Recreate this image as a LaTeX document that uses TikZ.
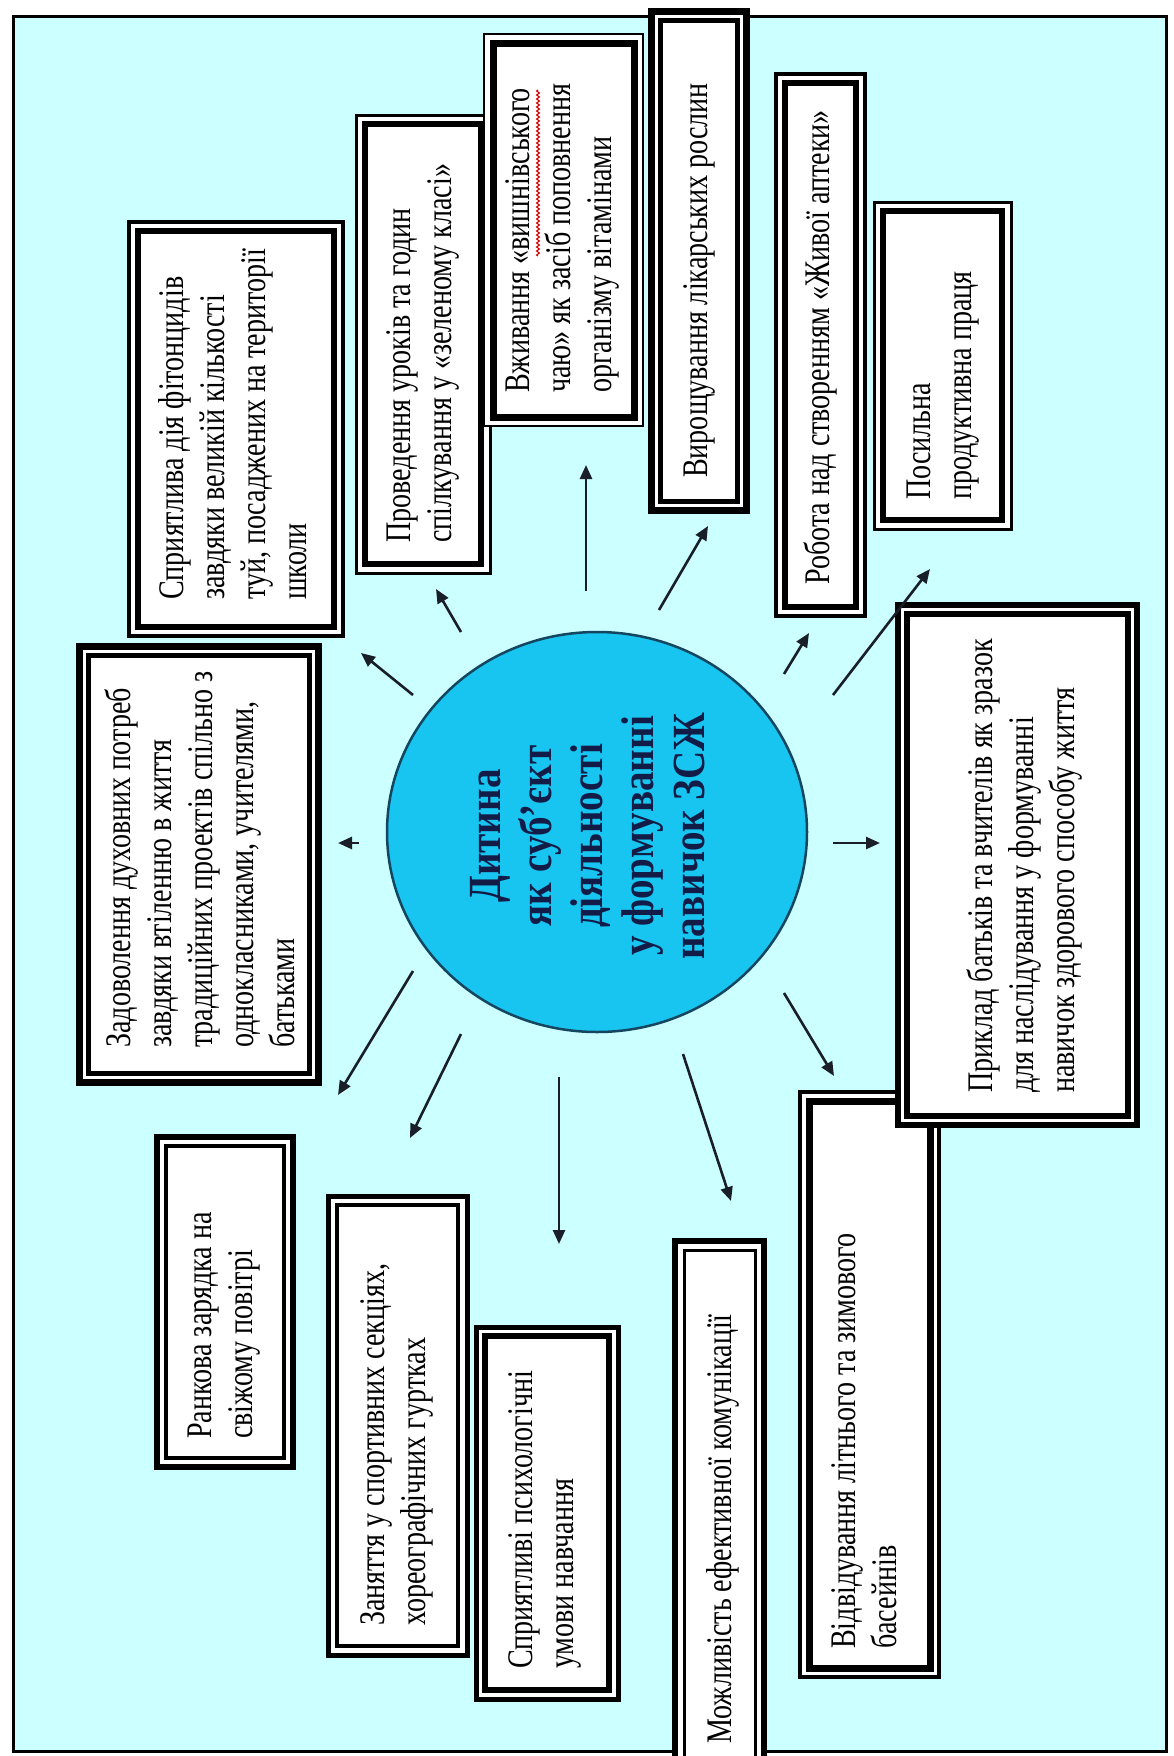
\documentclass[tikz,border=0pt]{standalone}
\usepackage{fontspec}
\setmainfont{Liberation Serif}
\newfontfamily\boxfont[FakeStretch=0.78]{Liberation Serif}
\newfontfamily\centerfont[FakeStretch=0.85]{Liberation Serif}
\usetikzlibrary{arrows.meta,shapes.geometric,decorations.pathmorphing}
\definecolor{bgcyan}{RGB}{204,255,255}
\definecolor{circfill}{RGB}{24,196,240}
\definecolor{circline}{RGB}{20,70,95}
\definecolor{navy}{RGB}{18,28,70}
\definecolor{arrowc}{RGB}{25,30,40}
\tikzset{
  frame/.style={draw=black, line width=3pt, fill=bgcyan},
  obox/.style={draw=black, fill=white, inner sep=0pt, outer sep=0pt},
  ibox/.style={draw=black, inner sep=0pt, outer sep=0pt},
  btext/.style={rotate=90, anchor=west, inner sep=0pt, align=left,
    font=\boxfont\fontsize{36}{41}\selectfont, text=black},
  ctext/.style={rotate=90, inner sep=0pt, align=center,
    font=\centerfont\bfseries\fontsize{46}{51}\selectfont, text=navy},
  arr/.style={draw=arrowc, line width=2.6pt, -{Triangle[length=14pt,width=12pt]}},
  spell/.style={draw=red!80!black, line width=1.1pt, decorate,
    decoration={zigzag, amplitude=1.4pt, segment length=4pt}}
}
% name, x1, y1, x2, y2, outer lw, inner lw
\newcommand\dbox[7]{%
  \pgfmathsetmacro\bw{#4-#2}%
  \pgfmathsetmacro\bh{#5-#3}%
  \pgfmathsetmacro\biw{#4-#2-18}%
  \pgfmathsetmacro\bih{#5-#3-18}%
  \pgfmathsetmacro\bcx{(#2+#4)/2}%
  \pgfmathsetmacro\bcy{(#3+#5)/2}%
  \node[obox, line width=#6pt, minimum width=\bw pt, minimum height=\bh pt] (#1) at (\bcx,\bcy) {};
  \node[ibox, line width=#7pt, minimum width=\biw pt, minimum height=\bih pt] (#1in) at (#1.center) {};
}
\begin{document}
\begin{tikzpicture}[x=1pt,y=-1pt]
\useasboundingbox (0,0) rectangle (1173,1756);
\fill[white] (0,0) rectangle (1173,1756);
\draw[frame] (13,16) rectangle (1166,1751);

% boxes
\dbox{bA}{129}{222}{343}{636}{4}{5.5}
\dbox{bB}{356}{115}{490}{573}{3}{6}
\dbox{bC}{484}{34}{643}{426}{2.5}{7}
\dbox{bD}{651}{11}{746}{510}{7}{5}
\dbox{bE}{776}{74}{865}{616}{4}{6}
\dbox{bF}{874}{202}{1011}{529}{3}{6}
\dbox{bH}{800}{1092}{939}{1677}{4}{7}
\dbox{bG}{898}{605}{1137}{1125}{6}{6}
\dbox{bI}{675}{1241}{764}{1766}{6}{3}
\dbox{bJ}{476}{1327}{618}{1699}{5}{6}
\dbox{bK}{328}{1196}{467}{1655}{5}{4}
\dbox{bL}{157}{1137}{293}{1467}{6}{4}
\dbox{bM}{79}{646}{318}{1082}{7}{5}

% texts
\node[btext] (tA) at (233,600) {Сприятлива дія фітонцидів\\завдяки великій кількості\\туй, посаджених на території\\школи};
\node[btext] (tB) at (423,543) {Проведення уроків та годин\\спілкування у «зеленому класі»};
\node[btext] (tC) at (562,393) {Вживання «вишнівського\\чаю» як засіб поповнення\\організму вітамінами};
\node[btext] (tD) at (699,478) {Вирощування лікарських рослин};
\node[btext] (tE) at (820,585) {Робота над створенням «Живої аптеки»};
\node[btext] (tF) at (943,500) {Посильна\\продуктивна праця};
\node[btext] (tG) at (1024,1093) {Приклад батьків та вчителів як зразок\\для наслідування у формуванні\\навичок здорового способу життя};
\node[btext] (tH) at (864,1649) {Відвідування літнього та зимового\\басейнів};
\node[btext] (tI) at (723,1744) {Можливість ефективної комунікації};
\node[btext] (tJ) at (545,1669) {Сприятливі психологічні\\умови навчання};
\node[btext] (tK) at (397,1626) {Заняття у спортивних секціях,\\хореографічних гуртках};
\node[btext] (tL) at (224,1439) {Ранкова зарядка на\\свіжому повітрі};
\node[btext] (tM) at (200,1048) {Задоволення духовних потреб\\завдяки втіленню в життя\\традиційних проектів спільно з\\однокласниками, учителями,\\батьками};
\draw[spell] (538,256) -- (538,90);

% centre
\node[ellipse, draw=circline, line width=2.5pt, fill=circfill, minimum width=420pt, minimum height=400pt, inner sep=0pt] (c) at (597,832) {};
\node[ctext] (ct) at (588,836) {Дитина\\як суб’єкт\\діяльності\\у формуванні\\навичок ЗСЖ};

% arrows
\coordinate (sM) at (359,843); \coordinate (eM) at (338,843);
\coordinate (sA) at (413,695); \coordinate (eA) at (361,653);
\coordinate (sB) at (461,632); \coordinate (eB) at (436,589);
\coordinate (sC) at (586,591); \coordinate (eC) at (586,465);
\coordinate (sD) at (659,610); \coordinate (eD) at (708,526);
\coordinate (sE) at (784,674); \coordinate (eE) at (809,633);
\coordinate (sF) at (833,695); \coordinate (eF) at (930,569);
\coordinate (sG) at (833,843); \coordinate (eG) at (880,843);
\coordinate (sH) at (784,993); \coordinate (eH) at (834,1076);
\coordinate (sI) at (683,1054); \coordinate (eI) at (731,1201);
\coordinate (sJ) at (559,1077); \coordinate (eJ) at (559,1244);
\coordinate (sK) at (461,1034); \coordinate (eK) at (410,1138);
\coordinate (sL) at (413,971); \coordinate (eL) at (338,1095);
\foreach \k in {M,A,B,C,D,E,F,G,H,I,J,K,L} \draw[arr] (s\k) -- (e\k);
\end{tikzpicture}
\end{document}
